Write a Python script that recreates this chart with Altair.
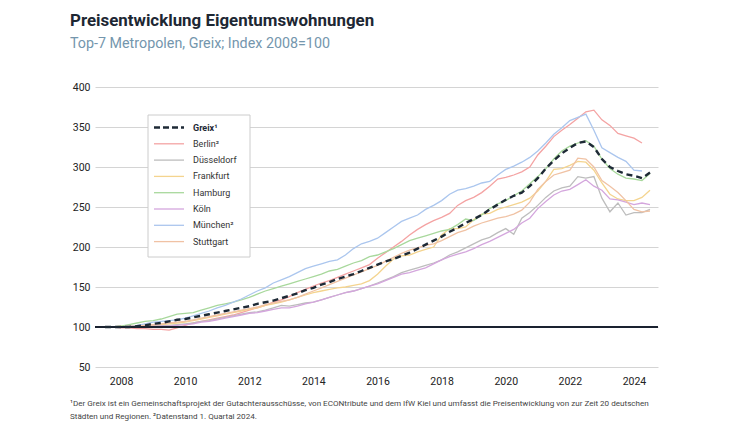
import altair as alt
import pandas as pd

# ---------------- data (quarterly index values) ----------------
start_year = 2007.5
quarter_step = 0.25

greix = [100,100,100,100,101,102,104,105,107,109,
         110,112,114,116,118,120,122,124,126,129,
         131,133,136,139,142,146,149,153,156,160,
         163,166,170,174,178,182,185,189,193,198,
         203,208,213,219,224,230,235,240,247,253,
         259,264,268,276,286,298,308,317,324,330,
         332,325,310,300,295,291,289,286,293]

berlin = [100,100,99,99,98,98,97,97,96,99,
          102,105,107,109,111,113,115,118,121,124,
          127,131,134,138,143,147,151,155,158,162,
          166,170,174,178,186,193,200,207,215,222,
          228,233,237,242,252,258,262,268,276,285,
          287,290,294,300,315,326,338,346,353,361,
          369,371,359,352,342,339,336,330]

duesseldorf = [100,100,100,100,100,101,101,102,102,103,
               104,105,107,108,110,112,114,116,118,119,
               121,124,127,126,128,130,131,134,137,140,
               143,145,148,151,155,159,163,168,171,174,
               177,180,184,190,194,199,204,209,212,218,
               223,216,236,243,252,262,270,274,276,288,
               286,288,261,244,255,240,243,243,247]

frankfurt = [100,100,101,101,101,102,102,103,104,105,
             106,108,110,112,114,116,118,120,122,124,
             127,129,131,134,137,140,143,145,147,149,
             150,152,154,158,166,176,185,189,190,194,
             197,200,215,223,223,225,234,241,242,247,
             250,253,256,261,270,282,297,298,302,307,
             306,296,280,266,260,258,258,262,271]

hamburg = [100,100,101,103,105,107,108,110,113,116,
           117,118,121,124,127,129,131,134,137,141,
           145,148,151,154,157,160,163,166,170,172,
           176,180,183,188,190,194,198,203,208,211,
           214,217,220,222,228,235,233,240,248,254,
           258,264,270,279,288,298,310,320,326,330,
           333,326,310,298,291,286,285,283,292]

koeln = [100,100,100,100,100,100,101,101,101,102,
         103,104,106,107,109,111,113,115,117,118,
         120,122,124,124,126,129,131,134,137,140,
         143,145,148,151,154,158,162,166,168,171,
         174,179,184,188,191,194,198,203,207,212,
         217,222,230,236,248,257,265,270,272,278,
         284,276,271,260,259,256,253,255,253]

muenchen = [100,100,100,101,102,104,106,107,108,109,
            111,114,117,120,124,127,131,135,140,145,
            149,155,159,163,168,173,176,179,182,184,
            190,198,204,207,211,218,225,232,236,240,
            247,252,258,266,271,273,276,280,282,290,
            297,301,306,312,320,330,341,349,358,362,
            366,346,324,318,312,307,296,295]

stuttgart = [100,100,100,101,101,102,103,104,105,106,
             107,109,111,113,115,117,119,121,123,125,
             128,130,132,134,137,141,145,149,153,157,
             161,165,169,173,177,182,187,192,196,199,
             202,204,208,213,218,221,226,230,233,236,
             238,241,246,256,272,282,290,293,296,311,
             310,300,283,276,268,258,247,244,245]

city_names = ["Berlin", "Düsseldorf", "Frankfurt", "Hamburg", "Köln", "München", "Stuttgart"]
city_values = [berlin, duesseldorf, frankfurt, hamburg, koeln, muenchen, stuttgart]
city_colors = ["#f4a3a3", "#bdbdbd", "#f4d48f", "#a8d89c", "#d4a6dd", "#abc6ee", "#f0c2a4"]
greix_color = "#1e2a36"

legend_labels = ["Greix¹", "Berlin²", "Düsseldorf", "Frankfurt", "Hamburg", "Köln", "München²", "Stuttgart"]

x_ticks = [2008, 2010, 2012, 2014, 2016, 2018, 2020, 2022, 2024]
y_ticks = [50, 100, 150, 200, 250, 300, 350, 400]

title_text = "Preisentwicklung Eigentumswohnungen"
subtitle_text = "Top-7 Metropolen, Greix; Index 2008=100"
foot_1 = "¹Der Greix ist ein Gemeinschaftsprojekt der Gutachterausschüsse, von ECONtribute und dem IfW Kiel und umfasst die Preisentwicklung von zur Zeit 20 deutschen"
foot_2 = "Städten und Regionen. ²Datenstand 1. Quartal 2024."

# ---------------- tables ----------------
rows = []
for name, vals in zip(city_names, city_values):
    for i, v in enumerate(vals):
        rows.append({"t": start_year + i * quarter_step, "v": v, "s": name})
cities_df = pd.DataFrame(rows)
greix_df = pd.DataFrame({"t": [start_year + i * quarter_step for i in range(len(greix))], "v": greix})

FONT = "Roboto"
W, H = 563, 280

x_enc = alt.X("t:Q",
              scale=alt.Scale(domain=[2007.1875, 2024.75], nice=False, zero=False),
              axis=alt.Axis(values=x_ticks, tickCount=20, format="d", grid=False, ticks=False,
                            domain=False, labelPadding=9, labelFontSize=10.5,
                            labelColor="#222222", labelFont=FONT, labelOverlap=False,
                            title=None))
y_enc = alt.Y("v:Q",
              scale=alt.Scale(domain=[50, 400], nice=False, zero=False),
              axis=alt.Axis(values=y_ticks, tickCount=20, grid=True, gridColor="#d4d4d4",
                            gridWidth=1, ticks=False, domain=False, labelPadding=5,
                            labelFontSize=10.5, labelColor="#222222", labelFont=FONT,
                            labelOverlap=False, title=None))

base_rule = alt.Chart(pd.DataFrame({"v": [100]})).mark_rule(
    color="#1a2230", strokeWidth=2).encode(y=alt.Y("v:Q"))

city_lines = alt.Chart(cities_df).mark_line(strokeWidth=1.3).encode(
    x=x_enc, y=y_enc,
    color=alt.Color("s:N", scale=alt.Scale(domain=city_names, range=city_colors), legend=None),
    order=alt.Order("t:Q"))

greix_line = alt.Chart(greix_df).mark_line(
    strokeWidth=2.4, strokeDash=[6, 4], color=greix_color).encode(x="t:Q", y="v:Q")

one = pd.DataFrame({"a": [0]})

# legend box
lx0, lx1, ly0, ly1 = 53, 155, 28, 170
legend_box = alt.Chart(one).mark_rect(fill="white", stroke="#cccccc", strokeWidth=1).encode(
    x=alt.value(lx0), x2=alt.value(lx1), y=alt.value(ly0), y2=alt.value(ly1))

legend_layers = []
row_y0, row_step = 40.5, 16.3
all_colors = [greix_color] + city_colors
for k, (lab, col) in enumerate(zip(legend_labels, all_colors)):
    yy = row_y0 + k * row_step
    if k == 0:
        sw = alt.Chart(one).mark_rule(color=col, strokeWidth=2.4, strokeDash=[6, 3]).encode(
            x=alt.value(59), x2=alt.value(89), y=alt.value(yy))
        tx = alt.Chart(one).mark_text(align="left", baseline="middle", font=FONT, fontSize=9,
                                      fontWeight="bold", color="#1e2a36").encode(
            x=alt.value(98), y=alt.value(yy), text=alt.value(lab))
    else:
        sw = alt.Chart(one).mark_rule(color=col, strokeWidth=1.3).encode(
            x=alt.value(59), x2=alt.value(89), y=alt.value(yy))
        tx = alt.Chart(one).mark_text(align="left", baseline="middle", font=FONT, fontSize=9,
                                      color="#333333").encode(
            x=alt.value(98), y=alt.value(yy), text=alt.value(lab))
    legend_layers += [sw, tx]

title_mark = alt.Chart(one).mark_text(align="left", baseline="alphabetic", font=FONT, fontSize=16.9,
                                      fontWeight="bold", color="#1d2733").encode(
    x=alt.value(-25), y=alt.value(-61), text=alt.value(title_text))
subtitle_mark = alt.Chart(one).mark_text(align="left", baseline="alphabetic", font=FONT, fontSize=14.3,
                                         color="#7496ad").encode(
    x=alt.value(-25), y=alt.value(-39), text=alt.value(subtitle_text))
foot1_mark = alt.Chart(one).mark_text(align="left", baseline="middle", font=FONT, fontSize=8.1,
                                      color="#444444").encode(
    x=alt.value(-25), y=alt.value(317), text=alt.value(foot_1))
foot2_mark = alt.Chart(one).mark_text(align="left", baseline="middle", font=FONT, fontSize=8.1,
                                      color="#444444").encode(
    x=alt.value(-25), y=alt.value(330), text=alt.value(foot_2))

chart = alt.layer(
    city_lines, base_rule, greix_line, legend_box, *legend_layers,
    title_mark, subtitle_mark, foot1_mark, foot2_mark
).properties(
    width=W, height=H,
    background="white",
    autosize=alt.AutoSizeParams(type="none"),
    padding={"left": 87, "top": 79, "right": 63, "bottom": 66},
).configure_view(stroke=None)

chart.save("out.html", embed_options={"renderer": "svg", "actions": False})
